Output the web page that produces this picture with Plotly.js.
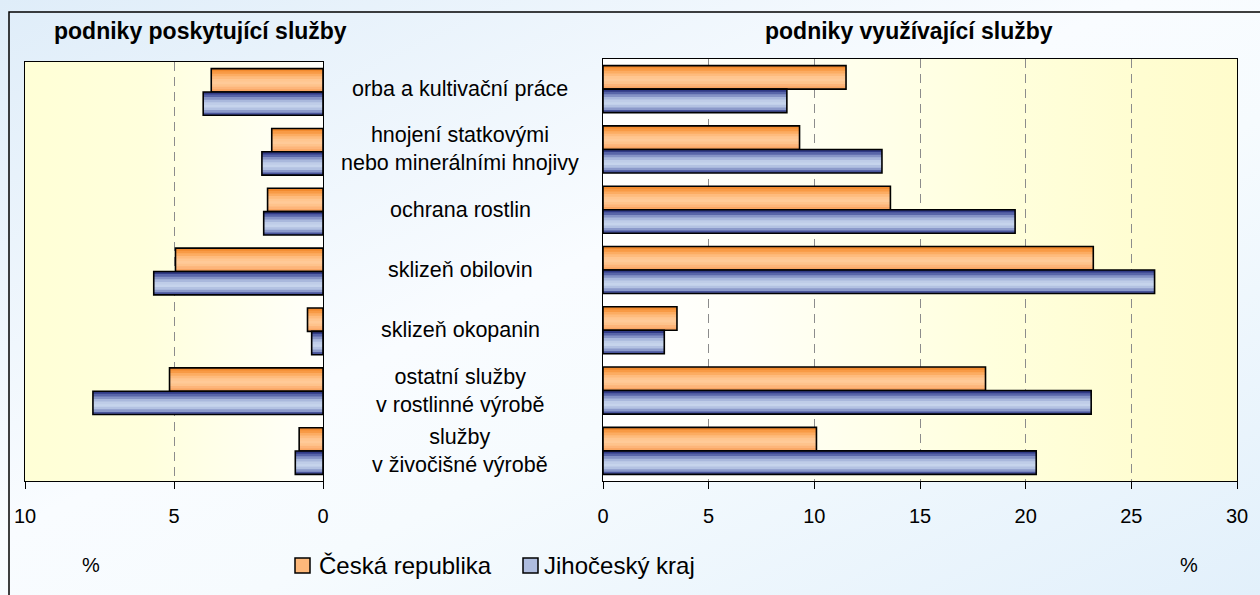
<!DOCTYPE html>
<html>
<head>
<meta charset="utf-8">
<script src="https://cdn.plot.ly/plotly-3.0.1.min.js"></script>
<style>html,body{margin:0;padding:0;background:#fff;}#chart{width:1260px;height:595px;}</style>
</head>
<body>
<div id="chart"></div>
<script>
// ---- data ----
const categories = [
  'orba a kultivační práce',
  'hnojení statkovými<br>nebo minerálními hnojivy',
  'ochrana rostlin',
  'sklizeň obilovin',
  'sklizeň okopanin',
  'ostatní služby<br>v rostlinné výrobě',
  'služby<br>v živočišné výrobě'
];
const seriesNames = ['Česká republika', 'Jihočeský kraj'];
const providingCR = [3.75, 1.72, 1.86, 4.95, 0.52, 5.15, 0.80];
const providingJC = [4.02, 2.05, 1.99, 5.68, 0.38, 7.72, 0.93];
const usingCR = [11.5, 9.3, 13.6, 23.2, 3.5, 18.1, 10.1];
const usingJC = [8.7, 13.2, 19.5, 26.1, 2.9, 23.1, 20.5];
const panelTitles = ['podniky poskytující služby', 'podniky využívající služby'];
const leftTicks = [10, 5, 0];
const rightTicks = [0, 5, 10, 15, 20, 25, 30];
const unitLabel = '%';

// ---- styling ----
const W = 1260, H = 595;
const px = v => v / W;
const py = v => 1 - v / H;
const FONT = 'Liberation Sans, Arial, sans-serif';
const orangeStrips = ['#F28A2E','#F89A45','#FCAC62','#FEBB7D','#FFC690','#FFCA98','#FEC38C','#FDB57A','#F9A663'];
const blueStrips = ['#303A86','#5865A8','#8593C6','#A9B8DC','#BFCDE8','#C6D4EC','#B3C2E2','#8C9ACA','#4A559C'];
const BAR_W = 0.39;

function barLayers(values, axisSuffix, strips, off) {
  const n = strips.length;
  const out = [];
  strips.forEach((c, k) => {
    out.push({
      type: 'bar', orientation: 'h', x: values, y: categories,
      xaxis: 'x' + axisSuffix, yaxis: 'y' + axisSuffix,
      offset: off + k * BAR_W / n, width: BAR_W - k * BAR_W / n,
      marker: {color: c, line: {width: 0}},
      hoverinfo: 'skip', showlegend: false
    });
  });
  out.push({
    type: 'bar', orientation: 'h', x: values, y: categories,
    xaxis: 'x' + axisSuffix, yaxis: 'y' + axisSuffix,
    offset: off, width: BAR_W,
    marker: {color: 'rgba(0,0,0,0)', line: {color: '#000', width: 1.6}},
    hoverinfo: 'skip', showlegend: false
  });
  return out;
}

const traces = [].concat(
  barLayers(providingCR, '', orangeStrips, -BAR_W),
  barLayers(providingJC, '', blueStrips, 0),
  barLayers(usingCR, '2', orangeStrips, -BAR_W),
  barLayers(usingJC, '2', blueStrips, 0)
);

function svgURI(svg) { return 'data:image/svg+xml;charset=utf-8,' + encodeURIComponent(svg); }
const pageBg = svgURI('<svg xmlns="http://www.w3.org/2000/svg" width="100" height="100" viewBox="0 0 100 100" preserveAspectRatio="none"><defs><linearGradient id="g" x1="0" y1="0" x2="1" y2="1"><stop offset="0" stop-color="#DFEDF9"/><stop offset="0.45" stop-color="#F9FCFF"/><stop offset="0.6" stop-color="#F6FBFE"/><stop offset="1" stop-color="#E2F0FB"/></linearGradient></defs><rect width="100" height="100" fill="url(#g)"/></svg>');
const leftBg = svgURI('<svg xmlns="http://www.w3.org/2000/svg" width="100" height="100" viewBox="0 0 100 100" preserveAspectRatio="none"><defs><linearGradient id="g" x1="0" y1="0" x2="1" y2="0"><stop offset="0" stop-color="#FFFFD6"/><stop offset="0.4" stop-color="#FFFFDC"/><stop offset="1" stop-color="#FFFFFB"/></linearGradient></defs><rect width="100" height="100" fill="url(#g)"/></svg>');
const rightBg = svgURI('<svg xmlns="http://www.w3.org/2000/svg" width="100" height="100" viewBox="0 0 100 100" preserveAspectRatio="none"><defs><linearGradient id="g" x1="0" y1="0" x2="1" y2="0"><stop offset="0" stop-color="#FFFFFF"/><stop offset="0.22" stop-color="#FFFFF8"/><stop offset="0.6" stop-color="#FFFFDE"/><stop offset="0.85" stop-color="#FFFDD1"/><stop offset="1" stop-color="#FFFCCC"/></linearGradient></defs><rect width="100" height="100" fill="url(#g)"/></svg>');

const L = {x0: 25, x1: 323, y0: 62, y1: 481};
const R = {x0: 603, x1: 1237, y0: 59, y1: 481};

const axisCommon = {
  showline: true, mirror: true, linecolor: '#000', linewidth: 1,
  ticks: 'outside', ticklen: 7, tickcolor: '#000', tickwidth: 1,
  showgrid: true, gridcolor: '#8C8C8C', gridwidth: 1, griddash: '9px,6px',
  zeroline: false, tickfont: {family: FONT, size: 20, color: '#000'},
  ticklabelstandoff: 10, fixedrange: true
};
const yCommon = {
  type: 'category', range: [6.5, -0.5], showticklabels: false, ticks: '',
  showline: true, mirror: true, linecolor: '#000', linewidth: 1,
  showgrid: false, zeroline: false, fixedrange: true
};

const annotations = [];
categories.forEach(c => annotations.push({
  xref: 'paper', yref: 'y2', x: px(460), y: c, text: c, showarrow: false,
  xanchor: 'center', yanchor: 'middle', align: 'center',
  font: {family: FONT, size: 21.5, color: '#000'}
}));
annotations.push({xref: 'paper', yref: 'paper', x: px(200), y: py(31), text: '<b>' + panelTitles[0] + '</b>',
  showarrow: false, xanchor: 'center', yanchor: 'middle', font: {family: FONT, size: 23, color: '#000'}});
annotations.push({xref: 'paper', yref: 'paper', x: px(909), y: py(31), text: '<b>' + panelTitles[1] + '</b>',
  showarrow: false, xanchor: 'center', yanchor: 'middle', font: {family: FONT, size: 23, color: '#000'}});
annotations.push({xref: 'paper', yref: 'paper', x: px(91), y: py(565), text: unitLabel,
  showarrow: false, xanchor: 'center', yanchor: 'middle', font: {family: FONT, size: 20, color: '#000'}});
annotations.push({xref: 'paper', yref: 'paper', x: px(1189), y: py(565), text: unitLabel,
  showarrow: false, xanchor: 'center', yanchor: 'middle', font: {family: FONT, size: 20, color: '#000'}});
// legend labels
const legendX = [[295, 317], [523, 542]];
const legendFill = ['#FDB87A', '#AEBCDE'];
const shapes = [];
seriesNames.forEach((s, i) => {
  annotations.push({xref: 'paper', yref: 'paper', x: px(legendX[i][1]), y: py(565), text: s,
    showarrow: false, xanchor: 'left', yanchor: 'middle', font: {family: FONT, size: 24, color: '#000'}});
  shapes.push({type: 'rect', xref: 'paper', yref: 'paper',
    x0: px(legendX[i][0]), x1: px(legendX[i][0] + 15), y0: py(573), y1: py(558),
    fillcolor: legendFill[i], line: {color: '#000', width: 1.5}});
});
// outer border
shapes.push({type: 'rect', xref: 'paper', yref: 'paper', x0: px(9), x1: px(1264), y0: py(600), y1: py(12),
  fillcolor: 'rgba(0,0,0,0)', line: {color: '#000', width: 1.5}, layer: 'above'});

const layout = {
  width: W, height: H, margin: {l: 0, r: 0, t: 0, b: 0, pad: 0},
  paper_bgcolor: '#FFFFFF', plot_bgcolor: 'rgba(0,0,0,0)',
  barmode: 'overlay', showlegend: false,
  xaxis: Object.assign({}, axisCommon, {domain: [px(L.x0), px(L.x1)], range: [10, 0], tickvals: leftTicks, anchor: 'y'}),
  yaxis: Object.assign({}, yCommon, {domain: [py(L.y1), py(L.y0)], anchor: 'x'}),
  xaxis2: Object.assign({}, axisCommon, {domain: [px(R.x0), px(R.x1)], range: [0, 30], tickvals: rightTicks, anchor: 'y2'}),
  yaxis2: Object.assign({}, yCommon, {domain: [py(R.y1), py(R.y0)], anchor: 'x2'}),
  images: [
    {source: pageBg, xref: 'paper', yref: 'paper', x: 0, y: 1, sizex: 1, sizey: 1, sizing: 'stretch', xanchor: 'left', yanchor: 'top', layer: 'below'},
    {source: leftBg, xref: 'paper', yref: 'paper', x: px(L.x0), y: py(L.y0), sizex: px(L.x1) - px(L.x0), sizey: py(L.y0) - py(L.y1), sizing: 'stretch', xanchor: 'left', yanchor: 'top', layer: 'below'},
    {source: rightBg, xref: 'paper', yref: 'paper', x: px(R.x0), y: py(R.y0), sizex: px(R.x1) - px(R.x0), sizey: py(R.y0) - py(R.y1), sizing: 'stretch', xanchor: 'left', yanchor: 'top', layer: 'below'}
  ],
  annotations: annotations,
  shapes: shapes
};

Plotly.newPlot('chart', traces, layout, {displayModeBar: false, staticPlot: true});
</script>
</body>
</html>
